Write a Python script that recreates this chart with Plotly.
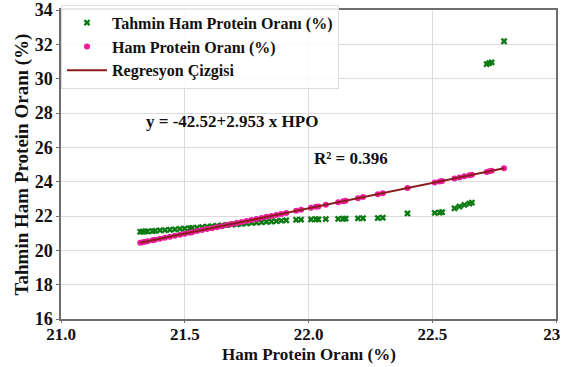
import plotly.graph_objects as go

# Shared HPO values (x)
hpo = [21.32, 21.33, 21.34, 21.35, 21.37, 21.38, 21.40, 21.42, 21.44, 21.46, 21.48, 21.50,
       21.52, 21.53, 21.55, 21.57, 21.59, 21.61, 21.63, 21.65, 21.67, 21.69, 21.71, 21.73,
       21.75, 21.77, 21.79, 21.81, 21.83, 21.85, 21.87, 21.89, 21.91,
       21.95, 21.97, 22.01, 22.03, 22.04, 22.07, 22.12, 22.14, 22.15, 22.20, 22.22, 22.28,
       22.30, 22.40, 22.51, 22.53, 22.54, 22.59, 22.61, 22.63, 22.65, 22.66, 22.72, 22.73,
       22.74, 22.79]

# Predicted values (green x markers)
tahmin = [21.08, 21.09, 21.10, 21.10, 21.12, 21.13, 21.16, 21.18, 21.20, 21.22, 21.25, 21.27,
          21.29, 21.30, 21.32, 21.35, 21.38, 21.40, 21.43, 21.45, 21.48, 21.50, 21.52, 21.55,
          21.57, 21.60, 21.62, 21.64, 21.66, 21.68, 21.70, 21.73, 21.75,
          21.78, 21.79, 21.80, 21.81, 21.80, 21.82, 21.83, 21.84, 21.85, 21.86, 21.87, 21.88,
          21.90, 22.15, 22.18, 22.20, 22.22, 22.45, 22.55, 22.65, 22.72, 22.78, 30.85, 30.90,
          30.95, 32.18]

# Ham protein values on the regression line (pink dots)
ham = [20.44, 20.47, 20.50, 20.53, 20.59, 20.62, 20.67, 20.73, 20.79, 20.85, 20.91, 20.97,
       21.03, 21.06, 21.12, 21.18, 21.24, 21.29, 21.35, 21.41, 21.47, 21.53, 21.59, 21.65,
       21.71, 21.77, 21.83, 21.89, 21.95, 22.00, 22.06, 22.12, 22.18,
       22.30, 22.36, 22.48, 22.54, 22.56, 22.65, 22.80, 22.86, 22.89, 23.04, 23.10, 23.27,
       23.33, 23.63, 23.95, 24.01, 24.04, 24.19, 24.25, 24.31, 24.37, 24.40, 24.57, 24.60,
       24.63, 24.78]

intercept = -42.52
slope = 2.953
line_x = [min(hpo), max(hpo)]
line_y = [intercept + slope * v for v in line_x]

x_tickvals = [21.0, 21.5, 22.0, 22.5, 23.0]
x_ticktext = ["21.0", "21.5", "22.0", "22.5", "23\u00a0\u00a0"]
y_tickvals = [16, 18, 20, 22, 24, 26, 28, 30, 32, 34]
y_ticktext = [str(v) for v in y_tickvals]

FONT = "Liberation Serif"
TXT = "#111111"

fig = go.Figure()
fig.add_trace(go.Scatter(
    x=hpo, y=tahmin, mode="markers", name="Tahmin Ham Protein Oranı (%)",
    marker=dict(symbol="x", size=6, color="#0b7a12", line=dict(width=0)),
))
fig.add_trace(go.Scatter(
    x=hpo, y=ham, mode="markers", name="Ham Protein Oranı (%)",
    marker=dict(symbol="circle", size=6, color="#ec1c9c"),
))
fig.add_trace(go.Scatter(
    x=line_x, y=line_y, mode="lines", name="Regresyon Çizgisi",
    line=dict(color="#8b1c1c", width=2),
))

fig.add_annotation(x=21.69, y=27.5, text="<b>y = -42.52+2.953 x HPO</b>", showarrow=False,
                   font=dict(family=FONT, size=17, color=TXT))
fig.add_annotation(x=22.17, y=25.37, text="<b>R² = 0.396</b>", showarrow=False,
                   font=dict(family=FONT, size=17, color=TXT))
# axis titles
fig.add_annotation(xref="paper", yref="paper", x=0.5, y=-0.115, xanchor="center", yanchor="middle",
                   text="<b>Ham Protein Oranı (%)</b>", showarrow=False,
                   font=dict(family=FONT, size=17, color=TXT))
fig.add_annotation(xref="paper", yref="paper", x=-0.079, y=0.5, xanchor="center", yanchor="middle",
                   textangle=-90, text="<b>Tahmin Ham Protein Oranı (%)</b>", showarrow=False,
                   font=dict(family=FONT, size=19, color=TXT))

fig.update_layout(
    width=570, height=367,
    margin=dict(l=61, r=14, t=10, b=48, autoexpand=False),
    paper_bgcolor="white", plot_bgcolor="white",
    font=dict(family=FONT, color=TXT),
    showlegend=True,
    legend=dict(
        x=0.0, y=1.017, xanchor="left", yanchor="top",
        bgcolor="rgba(255,255,255,0.85)", bordercolor="#dddddd", borderwidth=1,
        font=dict(family=FONT, size=16, color=TXT, weight="bold"),
        tracegroupgap=0, itemwidth=40,
    ),
    xaxis=dict(
        range=[21.0, 23.0], tickvals=x_tickvals,
        ticktext=["<b>%s</b>" % t for t in x_ticktext],
        showgrid=True, gridcolor="#dcdcdc", gridwidth=1,
        showline=True, linecolor="#6e6e6e", linewidth=1.5, mirror=True,
        ticks="outside", ticklen=2, tickcolor="#6e6e6e",
        tickfont=dict(family=FONT, size=17, color=TXT),
        ticklabeloverflow="allow", ticklabelstandoff=-3,
        zeroline=False, automargin=False,
    ),
    yaxis=dict(
        range=[16, 34], tickvals=y_tickvals,
        ticktext=["<b>%s</b>" % t for t in y_ticktext],
        showgrid=True, gridcolor="#dcdcdc", gridwidth=1,
        showline=True, linecolor="#6e6e6e", linewidth=1.5, mirror=True,
        ticks="outside", ticklen=3, tickcolor="#6e6e6e",
        tickfont=dict(family=FONT, size=18, color=TXT),
        ticklabeloverflow="allow",
        zeroline=False, automargin=False,
    ),
)

fig.write_html("out.html", config={"displayModeBar": False},
               post_script="document.body.style.margin='0';")
